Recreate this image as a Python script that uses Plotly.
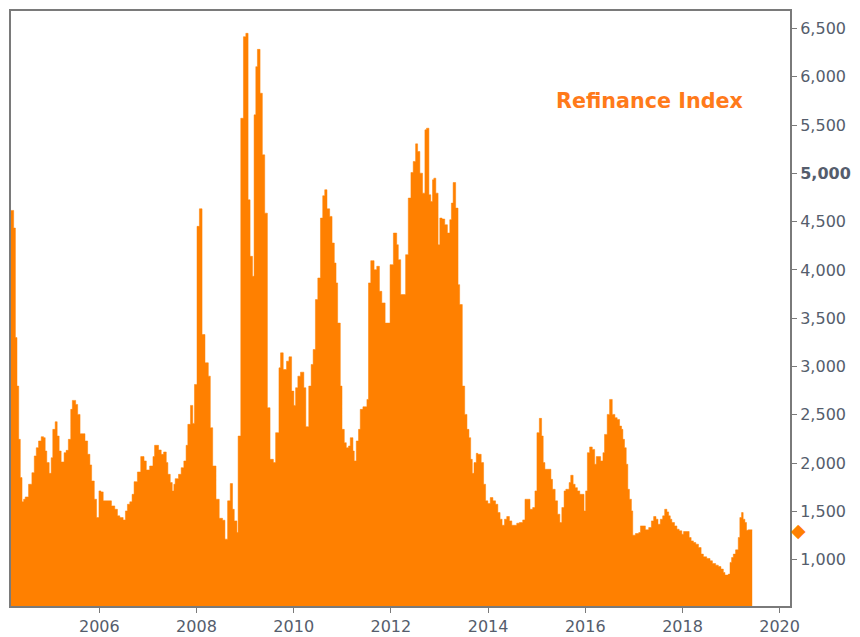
import plotly.graph_objects as go

# ---- data ----
dates = [
    "2004-03-08", "2004-03-28", "2004-04-10", "2004-04-22", "2004-05-05", "2004-05-17", "2004-05-30",
    "2004-06-11", "2004-06-23", "2004-07-18", "2004-08-12", "2004-08-30", "2004-09-14", "2004-10-01",
    "2004-10-21", "2004-11-08", "2004-11-20", "2004-12-02", "2004-12-20", "2005-01-04", "2005-01-16",
    "2005-02-03", "2005-02-18", "2005-03-05", "2005-03-20", "2005-04-11", "2005-04-26", "2005-05-13",
    "2005-05-31", "2005-06-12", "2005-07-07", "2005-07-22", "2005-08-09", "2005-09-15", "2005-10-05",
    "2005-10-22", "2005-11-04", "2005-11-24", "2005-12-11", "2005-12-29", "2006-01-13", "2006-01-30",
    "2006-04-02", "2006-04-27", "2006-05-17", "2006-06-04", "2006-06-29", "2006-07-16", "2006-07-31",
    "2006-08-18", "2006-09-04", "2006-09-19", "2006-10-14", "2006-11-08", "2006-12-03", "2006-12-20",
    "2007-01-14", "2007-02-08", "2007-02-20", "2007-03-22", "2007-04-11", "2007-04-29", "2007-05-19",
    "2007-05-31", "2007-06-18", "2007-07-03", "2007-07-15", "2007-07-25", "2007-08-19", "2007-09-08",
    "2007-09-28", "2007-10-15", "2007-10-28", "2007-11-17", "2007-12-04", "2007-12-17", "2008-01-05",
    "2008-01-23", "2008-02-12", "2008-03-05", "2008-03-30", "2008-04-14", "2008-05-02", "2008-05-27",
    "2008-06-20", "2008-07-15", "2008-08-02", "2008-08-22", "2008-09-11", "2008-09-28", "2008-10-11",
    "2008-10-31", "2008-11-09", "2008-11-29", "2008-12-19", "2009-01-06", "2009-01-23", "2009-02-07",
    "2009-02-25", "2009-03-09", "2009-03-22", "2009-04-03", "2009-04-23", "2009-05-10", "2009-05-28",
    "2009-06-17", "2009-07-07", "2009-08-01", "2009-08-18", "2009-09-12", "2009-09-24", "2009-10-14",
    "2009-11-08", "2009-11-26", "2009-12-16", "2010-01-02", "2010-01-15", "2010-02-01", "2010-02-21",
    "2010-03-18", "2010-04-02", "2010-04-24", "2010-05-12", "2010-05-27", "2010-06-13", "2010-07-01",
    "2010-07-21", "2010-08-07", "2010-08-22", "2010-09-08", "2010-09-28", "2010-10-16", "2010-11-02",
    "2010-11-15", "2010-11-27", "2010-12-17", "2010-12-30", "2011-01-16", "2011-01-31", "2011-02-17",
    "2011-03-02", "2011-03-22", "2011-04-01", "2011-04-16", "2011-05-03", "2011-05-16", "2011-06-05",
    "2011-07-05", "2011-07-17", "2011-08-03", "2011-08-28", "2011-09-17", "2011-10-07", "2011-10-25",
    "2011-11-19", "2011-12-26", "2012-01-20", "2012-02-14", "2012-02-26", "2012-03-15", "2012-04-21",
    "2012-05-11", "2012-05-31", "2012-06-17", "2012-07-05", "2012-07-20", "2012-08-06", "2012-08-26",
    "2012-09-13", "2012-09-25", "2012-10-13", "2012-10-27", "2012-11-09", "2012-11-19", "2012-12-04",
    "2012-12-21", "2013-01-03", "2013-01-20", "2013-02-09", "2013-03-01", "2013-03-19", "2013-03-31",
    "2013-04-13", "2013-05-02", "2013-05-20", "2013-06-01", "2013-06-21", "2013-07-09", "2013-07-26",
    "2013-08-10", "2013-08-23", "2013-09-04", "2013-09-17", "2013-10-04", "2013-10-16", "2013-11-10",
    "2013-11-28", "2013-12-13", "2013-12-30", "2014-01-17", "2014-02-06", "2014-02-26", "2014-03-15",
    "2014-04-01", "2014-04-16", "2014-05-04", "2014-05-21", "2014-06-10", "2014-06-28", "2014-08-04",
    "2014-08-24", "2014-09-18", "2014-10-05", "2014-11-12", "2014-12-02", "2014-12-19", "2015-01-03",
    "2015-01-21", "2015-02-07", "2015-02-19", "2015-03-04", "2015-04-18", "2015-04-30", "2015-05-20",
    "2015-06-07", "2015-06-24", "2015-07-09", "2015-07-26", "2015-08-08", "2015-09-02", "2015-09-14",
    "2015-10-02", "2015-10-17", "2015-11-03", "2015-11-21", "2015-12-23", "2016-01-04", "2016-01-17",
    "2016-02-03", "2016-02-23", "2016-03-12", "2016-03-24", "2016-04-26", "2016-05-13", "2016-05-25",
    "2016-06-14", "2016-07-02", "2016-07-22", "2016-08-11", "2016-08-28", "2016-09-15", "2016-09-30",
    "2016-10-10", "2016-10-22", "2016-11-04", "2016-11-16", "2016-11-28", "2016-12-13", "2016-12-23",
    "2017-01-12", "2017-02-06", "2017-02-19", "2017-03-28", "2017-04-22", "2017-05-12", "2017-05-29",
    "2017-06-16", "2017-07-01", "2017-07-18", "2017-08-05", "2017-08-20", "2017-09-06", "2017-09-19",
    "2017-10-01", "2017-10-13", "2017-11-02", "2017-11-20", "2017-12-07", "2017-12-27", "2018-01-09",
    "2018-02-20", "2018-03-07", "2018-03-24", "2018-04-11", "2018-05-01", "2018-05-21", "2018-06-07",
    "2018-07-02", "2018-07-27", "2018-08-14", "2018-09-07", "2018-09-27", "2018-10-17", "2018-11-04",
    "2018-11-16", "2018-12-11", "2018-12-24", "2019-01-05", "2019-01-18", "2019-02-04", "2019-02-24",
    "2019-03-08", "2019-03-21", "2019-04-02", "2019-04-15", "2019-04-27", "2019-05-10", "2019-06-09",
]

refinance_index = [
    4616, 4434, 3300, 2798, 2247, 1851, 1600,
    1627, 1651, 1782, 1902, 2075, 2160, 2230,
    2274, 2264, 2126, 2006, 1895, 2057, 2350,
    2429, 2281, 2126, 2013, 2109, 2133, 2247,
    2557, 2650, 2608, 2505, 2305, 2230, 2092,
    1982, 1816, 1627, 1437, 1713, 1703, 1610,
    1558, 1523, 1455, 1437, 1413, 1506, 1575,
    1600, 1678, 1809, 1909, 2068, 2023, 1930,
    1971, 2068, 2185, 2137, 2092, 2116, 2006,
    1885, 1799, 1713, 1782, 1840, 1885, 1954,
    2023, 2185, 2402, 2598, 2412, 2815, 4451,
    4633, 3332, 3039, 2901, 2367, 1971, 1627,
    1430, 1410, 1214, 1610, 1789, 1523, 1403,
    1282, 2281, 5570, 6414, 6449, 4726, 4141,
    3934, 5605, 6104, 6283, 5829, 5191, 4588,
    2574, 2040, 2006, 2316, 2987, 3142, 2970,
    3056, 3101, 2746, 2598, 2781, 2901, 2942,
    2781, 2378, 2798, 3022, 3177, 3693, 3917,
    4537, 4768, 4830, 4633, 4554, 4279, 4072,
    3866, 3450, 2798, 2350, 2212, 2160, 2178,
    2264, 2126, 2023, 2230, 2350, 2557, 2584,
    2660, 3866, 4096, 4003, 4038, 3779, 3659,
    3450, 4055, 4382, 4261, 4106, 3745, 4158,
    4744, 5009, 5123, 5305, 5226, 5002, 4795,
    5450, 5467, 4778, 4709, 4933, 4950, 4795,
    4261, 4537, 4527, 4468, 4382, 4520, 4692,
    4905, 4640, 3848, 3642, 2798, 2505, 2350,
    2264, 2040, 1895, 2006, 2102, 2092, 2006,
    1782, 1610, 1582, 1644, 1610, 1575, 1489,
    1420, 1358, 1420, 1448, 1403, 1358, 1379,
    1386, 1413, 1627, 1523, 1541, 1713, 2316,
    2464, 2281, 2006, 1937, 1833, 1730, 1610,
    1472, 1386, 1541, 1713, 1730, 1799, 1875,
    1782, 1747, 1713, 1678, 1506, 1713, 2109,
    2168, 2143, 1989, 2068, 2023, 2109, 2298,
    2505, 2660, 2505, 2471, 2453, 2384, 2350,
    2247, 2160, 1989, 1730, 1627, 1506, 1255,
    1272, 1282, 1351, 1310, 1334, 1403, 1448,
    1420, 1368, 1420, 1455, 1523, 1496, 1455,
    1420, 1386, 1351, 1317, 1300, 1265, 1293,
    1231, 1196, 1179, 1162, 1127, 1059, 1031,
    1014, 990, 962, 945, 931, 904, 869,
    842, 852, 973, 1024, 1059, 1103, 1231,
    1437, 1489, 1420, 1386, 1306, 1310, 1310,
]

y_tick_values = [1000, 1500, 2000, 2500, 3000, 3500, 4000, 4500, 5000, 5500, 6000, 6500]
y_tick_labels = ["1,000", "1,500", "2,000", "2,500", "3,000", "3,500", "4,000", "4,500",
                 "<b>5,000</b>", "5,500", "6,000", "6,500"]
series_name = "Refinance Index"

ORANGE = "#FF8000"
AXIS_GREY = "#7a7a7a"
LABEL_COLOR = "#555d6c"

fig = go.Figure()
fig.add_trace(go.Scatter(
    x=dates, y=refinance_index, mode="lines", line=dict(color=ORANGE, width=0.5, shape="hv"),
    fill="tozeroy", fillcolor=ORANGE, name=series_name, showlegend=False, hoverinfo="x+y",
))

fig.update_layout(
    width=860, height=645,
    margin=dict(l=9, r=68, t=11, b=30),
    paper_bgcolor="white", plot_bgcolor="white",
    font=dict(family="DejaVu Sans", size=16, color=LABEL_COLOR),
    xaxis=dict(
        type="date", range=[dates[0], "2020-03-19"],
        tick0="2006-01-01", dtick="M24", tickformat="%Y",
        showgrid=False, zeroline=False,
        showline=True, linecolor=AXIS_GREY, linewidth=2, mirror=True,
        ticks="outside", ticklen=5, tickcolor=AXIS_GREY, tickwidth=1,
        tickfont=dict(family="DejaVu Sans", size=16, color=LABEL_COLOR),
    ),
    yaxis=dict(
        side="right", range=[522, 6680],
        tickmode="array", tickvals=y_tick_values, ticktext=y_tick_labels,
        showgrid=False, zeroline=False,
        showline=True, linecolor=AXIS_GREY, linewidth=2, mirror=True,
        ticks="outside", ticklen=5, tickcolor=AXIS_GREY, tickwidth=1,
        tickfont=dict(family="DejaVu Sans", size=16, color=LABEL_COLOR),
    ),
    annotations=[
        dict(
            text="<b>" + series_name + "</b>", xref="paper", yref="paper",
            x=0.819, y=0.849, xanchor="center", yanchor="middle", showarrow=False,
            font=dict(family="DejaVu Sans", size=20.7, color="#FF7A1A"),
        ),
        # last-value marker sitting on the right axis
        dict(
            text="\u25C6", xref="paper", yref="y", x=1, xshift=8,
            y=refinance_index[-1], xanchor="center", yanchor="middle", showarrow=False,
            font=dict(family="DejaVu Sans", size=19, color=ORANGE),
        ),
    ],
)

fig.write_html(
    "out.html",
    config={"displayModeBar": False},
    post_script="document.body.style.margin='0px';document.body.style.overflow='hidden';",
)
